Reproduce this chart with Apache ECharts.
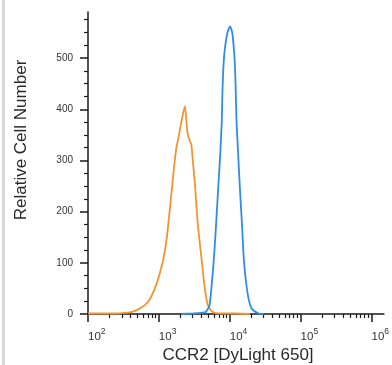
<!DOCTYPE html>
<html>
<head>
<meta charset="utf-8">
<script src="https://cdn.jsdelivr.net/npm/echarts@6/dist/echarts.min.js"></script>
<style>
html,body{margin:0;padding:0;background:#fff;}
#chart{width:392px;height:365px;}
</style>
</head>
<body>
<div id="chart"></div>
<script>
// Isotype control (orange): intensity, relative cell number
const isoX = [100, 172, 252, 324, 420, 576, 722, 848, 994, 1166, 1296, 1442, 1604, 1765, 1880, 2090, 2328, 2530, 2730, 2873, 3033, 3200, 3370, 3560, 3953, 4403, 4895, 5740, 7420, 12740, 19270];
const isoY = [1, 1, 1, 2, 4, 13, 26, 45, 72, 110, 150, 210, 275, 325, 343, 377, 406, 355, 338, 331, 295, 260, 217, 172, 115, 55, 18, 4, 1, 1, 0];
// CCR2 stained (blue)
const ccrX = [2070, 3034, 3917, 4592, 5167, 5437, 5870, 6257, 6883, 7340, 7723, 7900, 8150, 8500, 9260, 10100, 10860, 11470, 11840, 12070, 12460, 13150, 13890, 14950, 15790, 16990, 18500, 20550, 25460, 30140];
const ccrY = [0, 1, 2, 4, 16, 42, 94, 150, 247, 312, 377, 438, 484, 516, 549, 562, 549, 516, 484, 451, 377, 312, 247, 170, 107, 62, 29, 10, 1, 0];

const xMajorTicks = [100, 1000, 10000, 100000, 1000000];
const xMinorTicks = [200,300,400,500,600,700,800,900, 2000,3000,4000,5000,6000,7000,8000,9000,
  20000,30000,40000,50000,60000,70000,80000,90000, 200000,300000,400000,500000,600000,700000,800000,900000];
const yMajorTicks = [0, 100, 200, 300, 400, 500];
const yMinorTicks = [25,50,75,125,150,175,225,250,275,325,350,375,425,450,475,525,550,575];

const xTitle = 'CCR2 [DyLight 650]';
const yTitle = 'Relative Cell Number';

const X_MIN = 100, X_MAX = 1500000, Y_MIN = 0, Y_MAX = 590;

const chart = echarts.init(document.getElementById('chart'), null, {renderer: 'canvas'});

function pairs(xs, ys) { return xs.map((x, i) => [x, ys[i]]); }

const axisColor = '#1a1a1a';
const fontFam = 'Liberation Sans, Arial, Helvetica, sans-serif';

chart.setOption({
  animation: false,
  backgroundColor: '#ffffff',
  grid: {left: 88, right: 2, top: 12, bottom: 51, containLabel: false},
  xAxis: [
    {
      type: 'log', logBase: 10, min: X_MIN, max: X_MAX,
      axisLine: {show: true, lineStyle: {color: axisColor, width: 1.5}},
      axisTick: {show: true, length: 8, inside: false, customValues: xMajorTicks, lineStyle: {color: axisColor, width: 1.5}},
      axisLabel: {
        customValues: xMajorTicks, margin: 13, align: 'left',
        formatter: function (v) { const e = Math.round(Math.log10(v)); return '{b|10}{s|' + e + '}'; },
        rich: {
          b: {fontSize: 11.5, fontFamily: fontFam, color: '#333', lineHeight: 16, verticalAlign: 'bottom'},
          s: {fontSize: 8.5, fontFamily: fontFam, color: '#333', lineHeight: 16, verticalAlign: 'top', padding: [0,0,6,0]}
        }
      },
      splitLine: {show: false}, minorTick: {show: false}
    },
    {
      type: 'log', logBase: 10, min: X_MIN, max: X_MAX, gridIndex: 0, position: 'bottom',
      axisLine: {show: false},
      axisTick: {show: true, length: 4, customValues: xMinorTicks, lineStyle: {color: axisColor, width: 1.2}},
      axisLabel: {show: false},
      splitLine: {show: false}
    }
  ],
  yAxis: [
    {
      type: 'value', min: Y_MIN, max: Y_MAX,
      axisLine: {show: true, lineStyle: {color: axisColor, width: 1.5}},
      axisTick: {show: true, length: 8, customValues: yMajorTicks, lineStyle: {color: axisColor, width: 1.5}},
      axisLabel: {customValues: yMajorTicks, margin: 15, fontSize: 10, fontFamily: fontFam, color: '#333'},
      splitLine: {show: false}
    },
    {
      type: 'value', min: Y_MIN, max: Y_MAX, position: 'left',
      axisLine: {show: false},
      axisTick: {show: true, length: 4, customValues: yMinorTicks, lineStyle: {color: axisColor, width: 1.2}},
      axisLabel: {show: false},
      splitLine: {show: false}
    }
  ],
  graphic: [
    {type: 'rect', left: 2, top: 0, shape: {width: 3, height: 365}, style: {fill: '#d9d9d9'}, silent: true},
    {type: 'text', x: 21, y: 140, rotation: Math.PI / 2, style: {text: yTitle, fontSize: 17, fontFamily: fontFam, fill: '#2a2a2a', align: 'center', verticalAlign: 'middle'}},
    {type: 'text', x: 238, y: 355, style: {text: xTitle, fontSize: 17, fontFamily: fontFam, fill: '#2a2a2a', align: 'center', verticalAlign: 'middle'}}
  ],
  series: [
    {type: 'line', name: 'Isotype', data: pairs(isoX, isoY), xAxisIndex: 0, yAxisIndex: 0, showSymbol: false, smooth: 0.2,
      lineStyle: {color: '#f29432', width: 1.8}, itemStyle: {color: '#f29432'}, z: 3},
    {type: 'line', name: 'CCR2', data: pairs(ccrX, ccrY), xAxisIndex: 0, yAxisIndex: 0, showSymbol: false, smooth: 0.2,
      lineStyle: {color: '#2f8de4', width: 1.8}, itemStyle: {color: '#2f8de4'}, z: 4}
  ]
});
</script>
</body>
</html>
